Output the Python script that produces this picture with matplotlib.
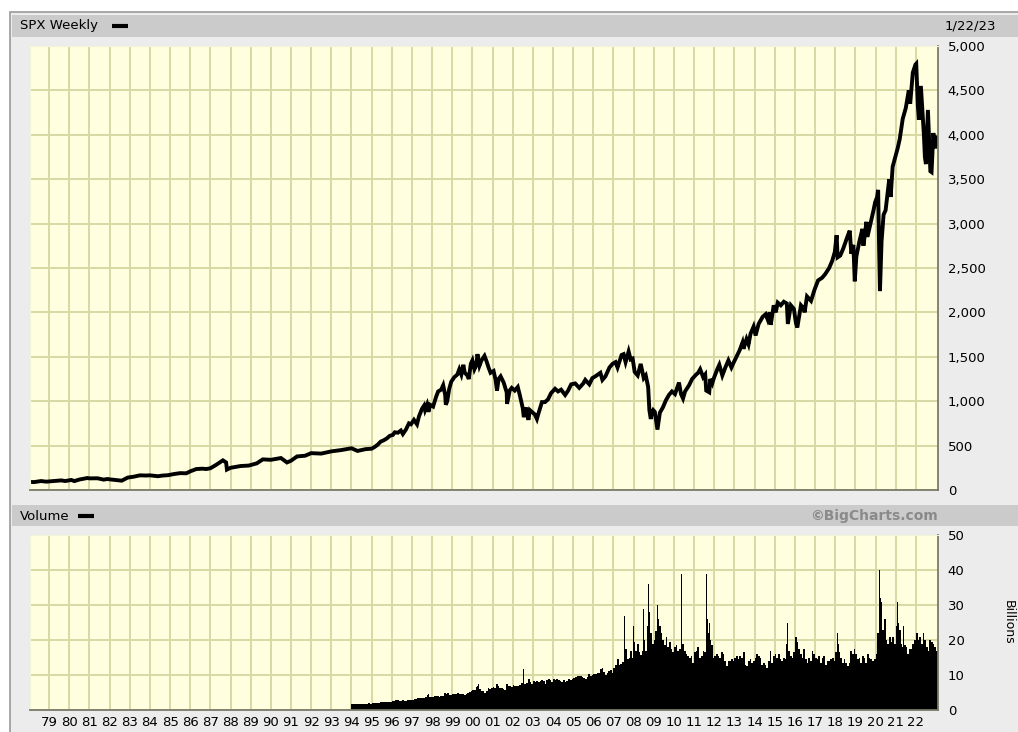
import matplotlib
matplotlib.use("Agg")
import matplotlib.pyplot as plt
from matplotlib.patches import Rectangle

# weekly S&P 500 closes (decimal year, index level)
price_dates = [
    1978.0, 1978.25, 1978.6, 1978.85, 1979.0, 1979.3, 1979.6, 1979.8,
    1980.1, 1980.25, 1980.5, 1980.9, 1981.0, 1981.4, 1981.7, 1981.9,
    1982.0, 1982.3, 1982.6, 1982.75, 1982.9, 1983.2, 1983.5, 1983.8,
    1984.0, 1984.4, 1984.6, 1984.9, 1985.2, 1985.5, 1985.8, 1986.0,
    1986.3, 1986.6, 1986.8, 1987.0, 1987.3, 1987.62, 1987.78, 1987.82,
    1988.0, 1988.5, 1988.9, 1989.3, 1989.6, 1990.0, 1990.5, 1990.8,
    1991.0, 1991.3, 1991.7, 1992.0, 1992.5, 1993.0, 1993.5, 1994.0,
    1994.3, 1994.7,
    1995.0, 1995.15, 1995.3, 1995.45, 1995.6, 1995.75, 1995.9,
    1996.05, 1996.15, 1996.3, 1996.45, 1996.55, 1996.7, 1996.85, 1996.95,
    1997.1, 1997.25, 1997.35, 1997.5, 1997.6, 1997.65, 1997.75, 1997.82, 1997.9,
    1998.05, 1998.2, 1998.3, 1998.45, 1998.55, 1998.65, 1998.68, 1998.75, 1998.85, 1998.95,
    1999.1, 1999.25, 1999.35, 1999.45, 1999.55, 1999.62, 1999.75, 1999.82, 1999.92,
    2000.0, 2000.1, 2000.2, 2000.25, 2000.35, 2000.45, 2000.6, 2000.7, 2000.8, 2000.9,
    2001.05, 2001.15, 2001.22, 2001.3, 2001.4, 2001.55, 2001.7, 2001.72, 2001.85, 2001.95,
    2002.1, 2002.25, 2002.35, 2002.5, 2002.55, 2002.65, 2002.78, 2002.85, 2002.95,
    2003.1, 2003.2, 2003.3, 2003.45, 2003.6, 2003.75, 2003.9,
    2004.1, 2004.25, 2004.4, 2004.6, 2004.75, 2004.9,
    2005.1, 2005.3, 2005.5, 2005.6, 2005.8, 2005.95,
    2006.1, 2006.35, 2006.45, 2006.6, 2006.8, 2006.95,
    2007.1, 2007.2, 2007.4, 2007.5, 2007.6, 2007.75, 2007.85, 2007.95,
    2008.05, 2008.2, 2008.35, 2008.5, 2008.6, 2008.72, 2008.78, 2008.85, 2008.9, 2008.97,
    2009.05, 2009.15, 2009.18, 2009.3, 2009.45, 2009.6, 2009.75, 2009.9,
    2010.05, 2010.25, 2010.35, 2010.45, 2010.55, 2010.75, 2010.9,
    2011.1, 2011.2, 2011.3, 2011.45, 2011.55, 2011.6, 2011.75, 2011.8, 2011.9, 2011.98,
    2012.15, 2012.25, 2012.4, 2012.55, 2012.7, 2012.85, 2012.95,
    2013.1, 2013.25, 2013.4, 2013.45, 2013.6, 2013.7, 2013.8, 2013.95,
    2014.05, 2014.2, 2014.4, 2014.55, 2014.65, 2014.75, 2014.8, 2014.95,
    2015.05, 2015.15, 2015.3, 2015.45, 2015.6, 2015.65, 2015.8, 2015.95,
    2016.05, 2016.12, 2016.3, 2016.45, 2016.48, 2016.6, 2016.8, 2016.9, 2016.98,
    2017.15, 2017.35, 2017.5, 2017.7, 2017.85, 2017.98,
    2018.07, 2018.12, 2018.25, 2018.4, 2018.6, 2018.72, 2018.8, 2018.9, 2018.97,
    2019.05, 2019.2, 2019.35, 2019.4, 2019.55, 2019.6, 2019.75, 2019.9, 2019.98,
    2020.08, 2020.13, 2020.18, 2020.22, 2020.3, 2020.4, 2020.5, 2020.6, 2020.68, 2020.75,
    2020.85, 2020.98,
    2021.1, 2021.2, 2021.35, 2021.5, 2021.65, 2021.72, 2021.85, 2021.98,
    2022.02, 2022.1, 2022.15, 2022.25, 2022.4, 2022.45, 2022.5, 2022.6, 2022.72, 2022.78,
    2022.87, 2022.95, 2023.03, 2023.06,
]
price_vals = [
    92, 89, 101, 94, 97, 102, 108, 101,
    113, 100, 118, 135, 131, 132, 117, 124,
    120, 112, 105, 122, 140, 150, 165, 163,
    165, 155, 162, 167, 180, 190, 188, 210,
    236, 240, 236, 245, 285, 334, 310, 230,
    250, 270, 275, 300, 345, 340, 360, 310,
    330, 378, 386, 415, 410, 435, 450, 470,
    440, 460,
    465, 485, 510, 545, 560, 580, 610,
    620, 650, 645, 670, 630, 680, 750, 740,
    790, 740, 830, 915, 950, 900, 960, 880, 960,
    940, 1050, 1110, 1130, 1180, 1070, 960, 1000, 1140, 1220,
    1270, 1300, 1360, 1300, 1410, 1320, 1290, 1250, 1420,
    1460, 1360, 1410, 1530, 1400, 1460, 1510, 1450, 1380, 1320,
    1340, 1240, 1120, 1250, 1280, 1210, 1100, 970, 1120, 1150,
    1120, 1160, 1070, 920, 820, 930, 790, 900, 880,
    850, 800, 880, 990, 990, 1020, 1090,
    1140, 1110, 1130, 1070, 1120, 1190,
    1200, 1150, 1200, 1240, 1190, 1260,
    1280, 1320, 1240, 1280, 1380, 1420,
    1440, 1380, 1520, 1530, 1440, 1560, 1470, 1480,
    1330, 1290, 1420, 1260, 1290, 1160, 900, 800, 870, 900,
    880, 720, 680, 870, 930, 1010, 1070, 1110,
    1080, 1210, 1080, 1030, 1110, 1180, 1250,
    1300, 1320, 1360, 1270, 1300, 1120, 1100, 1250, 1200, 1260,
    1360, 1410, 1290, 1380, 1460, 1380, 1430,
    1500, 1570, 1660, 1590, 1700, 1640, 1760, 1840,
    1740, 1870, 1950, 1980, 1920, 2000, 1860, 2080,
    2000, 2110, 2080, 2120, 2100, 1870, 2080, 2040,
    1880, 1830, 2080, 2040, 2000, 2180, 2130, 2200, 2260,
    2360, 2390, 2430, 2500, 2580, 2680,
    2870, 2620, 2640, 2720, 2850, 2920, 2660, 2760, 2350,
    2630, 2800, 2940, 2750, 3020, 2850, 3000, 3150, 3240,
    3300, 3380, 2700, 2240, 2800, 3100, 3150, 3350, 3500, 3300,
    3640, 3750,
    3850, 3950, 4180, 4300, 4500, 4350, 4700, 4790,
    4800, 4330, 4170, 4550, 4000, 3750, 3670, 4280, 3590, 3580,
    4020, 3850, 3900, 3970,
]

# weekly volume in billions, monthly levels from 1994 on
vol_years = list(range(1994, 2024))
vol_monthly = [
    [1.6, 1.7, 1.8, 1.7, 1.6, 1.7, 1.6, 1.7, 1.8, 1.8, 1.9, 1.8],
    [1.9, 2.0, 2.1, 2.0, 2.1, 2.2, 2.3, 2.2, 2.3, 2.4, 2.3, 2.4],
    [2.6, 2.6, 2.8, 2.9, 2.7, 2.6, 2.9, 2.5, 2.7, 2.9, 2.8, 3.0],
    [3.0, 3.2, 3.1, 3.3, 3.3, 3.5, 3.3, 3.4, 3.6, 4.2, 3.8, 3.6],
    [3.7, 3.9, 4.0, 4.0, 3.7, 3.9, 4.1, 4.8, 4.6, 4.9, 4.3, 4.4],
    [4.6, 4.5, 4.5, 5.0, 4.6, 4.6, 4.5, 4.3, 4.6, 5.0, 5.2, 5.3],
    [5.6, 5.8, 6.6, 6.8, 5.9, 5.5, 5.3, 5.0, 5.3, 6.2, 6.0, 6.2],
    [6.6, 6.2, 7.3, 7.0, 6.4, 6.2, 6.0, 5.8, 7.5, 7.0, 6.8, 6.5],
    [7.2, 7.0, 6.8, 6.9, 7.1, 7.8, 9.3, 7.5, 7.6, 8.8, 8.0, 7.5],
    [8.3, 8.1, 8.2, 8.0, 8.3, 8.6, 8.2, 7.5, 8.5, 8.8, 8.6, 8.0],
    [8.9, 8.6, 8.9, 8.5, 8.3, 8.1, 8.7, 7.9, 8.2, 9.0, 8.7, 8.8],
    [9.2, 9.4, 9.6, 9.8, 9.6, 9.3, 9.1, 9.0, 9.5, 10.3, 9.7, 9.9],
    [10.4, 10.2, 10.5, 10.7, 11.8, 12.0, 11.0, 10.0, 10.6, 11.2, 11.5, 10.6],
    [12.0, 13.0, 14.5, 13.0, 13.2, 13.8, 15.0, 17.5, 14.5, 14.8, 17.0, 15.0],
    [19.5, 17.0, 19.0, 16.5, 15.8, 17.0, 20.0, 17.0, 24.0, 28.0, 22.0, 19.0],
    [20.0, 22.5, 26.0, 24.0, 22.0, 20.0, 18.5, 21.0, 18.0, 19.5, 17.5, 16.5],
    [18.0, 18.5, 17.0, 17.5, 22.0, 19.0, 17.0, 16.0, 15.5, 15.0, 15.5, 13.5],
    [16.5, 17.0, 18.0, 15.0, 15.5, 17.0, 16.5, 26.0, 22.0, 20.0, 18.5, 15.0],
    [15.5, 16.0, 15.5, 15.0, 16.5, 16.0, 14.0, 12.5, 14.0, 14.0, 14.5, 14.0],
    [15.0, 15.5, 14.5, 15.5, 15.0, 16.5, 13.0, 12.5, 14.0, 14.5, 13.5, 14.0],
    [15.0, 16.0, 15.5, 15.0, 13.0, 13.5, 13.0, 12.0, 14.0, 17.0, 13.5, 15.5],
    [16.0, 15.0, 16.0, 14.5, 14.0, 15.0, 14.5, 19.0, 17.0, 15.5, 15.0, 16.5],
    [21.0, 19.5, 17.5, 16.0, 15.0, 17.5, 14.5, 13.5, 15.0, 14.0, 17.0, 16.0],
    [15.0, 14.5, 15.5, 13.5, 15.0, 15.5, 13.0, 14.0, 14.0, 14.5, 15.0, 14.0],
    [16.5, 19.0, 16.5, 15.0, 13.5, 14.5, 13.5, 12.5, 13.5, 17.0, 16.0, 17.5],
    [16.0, 14.5, 15.0, 13.5, 15.5, 15.0, 13.5, 16.0, 15.0, 14.5, 14.0, 14.5],
    [16.0, 22.0, 32.0, 27.0, 23.0, 26.0, 20.0, 19.0, 21.0, 19.5, 21.0, 19.0],
    [24.0, 25.0, 23.0, 19.0, 18.0, 18.5, 18.0, 16.0, 17.5, 17.5, 19.0, 20.0],
    [22.0, 20.0, 21.0, 19.0, 22.0, 20.0, 18.0, 17.0, 20.0, 19.5, 19.0, 18.0],
    [17.0],
]
# single heavy weeks standing above the monthly level
spike_dates = [1997.82, 2000.3, 2002.55, 2007.55, 2008.0, 2008.5, 2008.75, 2008.86,
               2009.2, 2010.37, 2011.6, 2011.75, 2015.65, 2016.05, 2018.1,
               2020.2, 2020.3, 2021.1, 2021.4, 2022.45, 2022.9]
spike_vals = [4.7, 7.3, 11.8, 27.0, 24.0, 29.0, 36.0, 39.0,
              30.0, 39.0, 39.0, 25.0, 25.0, 24.0, 22.0,
              40.0, 31.0, 31.0, 24.0, 29.0, 25.0]

year_ticks = list(range(1979, 2023))
year_labels = ["%02d" % (y % 100) for y in year_ticks]
price_ticks = list(range(0, 5001, 500))
vol_ticks = list(range(0, 51, 10))

W, H = 1018, 732
BG = "#ececec"
BAR = "#cbcbcb"
PLOT_BG = "#ffffe0"
GRID = "#d8d8a4"
X0, X1 = 1978.05, 2023.1


def box(x0, y0, x1, y1):
    return [x0 / W, 1 - y1 / H, (x1 - x0) / W, (y1 - y0) / H]


fig = plt.figure(figsize=(W / 100, H / 100), dpi=100)
fig.patch.set_facecolor("white")

# panel, header bars and labels drawn in pixel coordinates
bg = fig.add_axes([0, 0, 1, 1])
bg.set_xlim(0, W)
bg.set_ylim(H, 0)
bg.axis("off")
bg.add_patch(Rectangle((10, 12), W, H, facecolor=BG, edgecolor="#9a9a9a", lw=1.2))
bg.add_patch(Rectangle((12, 15), W, 22, facecolor=BAR, edgecolor="none"))
bg.add_patch(Rectangle((12, 505), W, 21, facecolor=BAR, edgecolor="none"))
bg.text(20, 26, "SPX Weekly", fontsize=9.5, va="center", ha="left")
bg.plot([112, 128], [26, 26], color="black", lw=3, solid_capstyle="butt")
bg.text(996, 26, "1/22/23", fontsize=9.5, va="center", ha="right")
bg.text(20, 516, "Volume", fontsize=9.5, va="center", ha="left")
bg.plot([78, 94], [516, 516], color="black", lw=3, solid_capstyle="butt")
bg.text(938, 516, "\u00a9BigCharts.com", fontsize=10, fontweight="bold",
        color="#8a8a8a", va="center", ha="right")
bg.text(1008, 622, "Billions", fontsize=9, rotation=-90, va="center", ha="center")


def style(ax, yticks):
    ax.set_facecolor(PLOT_BG)
    ax.set_xlim(X0, X1)
    ax.set_xticks(year_ticks)
    ax.set_yticks(yticks)
    ax.grid(True, color=GRID, lw=1.4)
    ax.set_axisbelow(True)
    ax.yaxis.tick_right()
    ax.tick_params(length=0, labelsize=9.5, pad=7)
    for s in ("top", "left"):
        ax.spines[s].set_color("#f4f4d8")
    for s in ("bottom", "right"):
        ax.spines[s].set_color("#7a7a6a")
        ax.spines[s].set_linewidth(1.3)


ax = fig.add_axes(box(30, 46, 938, 490))
style(ax, price_ticks)
ax.set_ylim(0, 5000)
ax.set_yticklabels(["{:,}".format(v) for v in price_ticks])
ax.set_xticklabels([])
ax.plot(price_dates, price_vals, color="black", lw=2.8, solid_joinstyle="miter")

vx = fig.add_axes(box(30, 535, 938, 710))
style(vx, vol_ticks)
vx.set_ylim(0, 50)
vx.set_xticklabels(year_labels)
vx.tick_params(axis="x", pad=4)
for yr, months in zip(vol_years, vol_monthly):
    xs = [yr + (m + 0.5) / 12 for m in range(len(months))]
    vx.bar(xs, months, width=1 / 12, color="black", linewidth=0)
vx.bar(spike_dates, spike_vals, width=0.035, color="black", linewidth=0)

fig.savefig("out.png", dpi=100, facecolor=fig.get_facecolor())
